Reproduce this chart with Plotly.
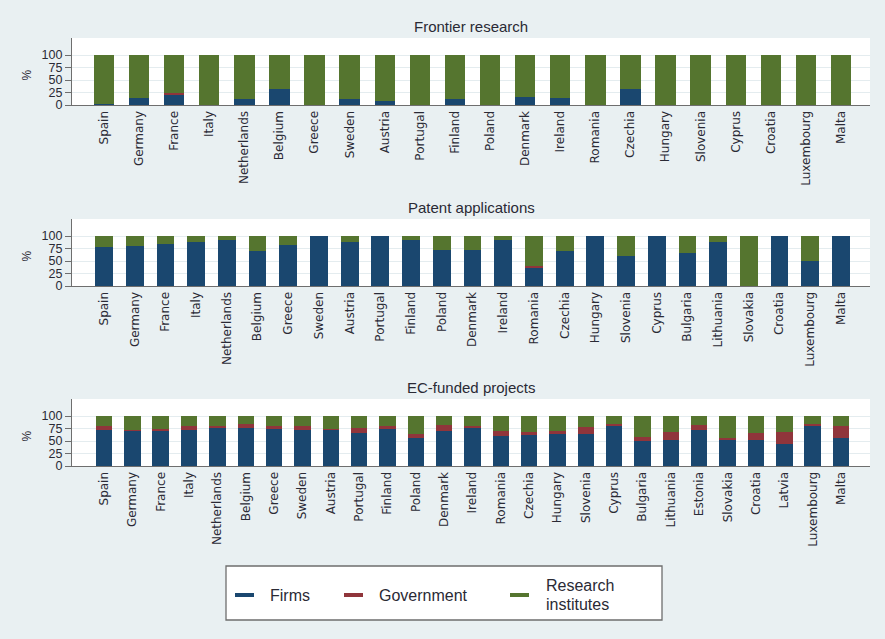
import plotly.graph_objects as go

# Series colours (Stata s2color palette)
FIRMS_COLOR = "#1a476f"
GOV_COLOR = "#90353b"
RES_COLOR = "#55752f"

series_names = ["Firms", "Government", "Research institutes"]

# --- Frontier research (% of participations) ---
frontier_countries = ["Spain", "Germany", "France", "Italy", "Netherlands", "Belgium",
                      "Greece", "Sweden", "Austria", "Portugal", "Finland", "Poland",
                      "Denmark", "Ireland", "Romania", "Czechia", "Hungary", "Slovenia",
                      "Cyprus", "Croatia", "Luxembourg", "Malta"]
frontier_firms = [2, 15, 20, 0, 12, 33, 0, 12, 9, 0, 12, 0,
                  16, 15, 0, 33, 0, 0, 0, 0, 0, 0]
frontier_gov = [0, 0, 5, 0, 0, 0, 0, 0, 0, 0, 0, 0,
                0, 0, 0, 0, 0, 0, 0, 0, 0, 0]
frontier_res = [98, 85, 75, 100, 88, 67, 100, 88, 91, 100, 88, 100,
                84, 85, 100, 67, 100, 100, 100, 100, 100, 100]

# --- Patent applications ---
patent_countries = ["Spain", "Germany", "France", "Italy", "Netherlands", "Belgium",
                    "Greece", "Sweden", "Austria", "Portugal", "Finland", "Poland",
                    "Denmark", "Ireland", "Romania", "Czechia", "Hungary", "Slovenia",
                    "Cyprus", "Bulgaria", "Lithuania", "Slovakia", "Croatia",
                    "Luxembourg", "Malta"]
patent_firms = [78, 80, 85, 89, 93, 70, 82, 100, 89, 100, 93, 73,
                73, 93, 37, 71, 100, 60, 100, 66, 88, 0, 100, 50, 100]
patent_gov = [0, 0, 0, 0, 0, 0, 0, 0, 0, 0, 0, 0,
              0, 0, 3, 0, 0, 0, 0, 0, 0, 0, 0, 0, 0]
patent_res = [22, 20, 15, 11, 7, 30, 18, 0, 11, 0, 7, 27,
              27, 7, 60, 29, 0, 40, 0, 34, 12, 100, 0, 50, 0]

# --- EC-funded projects ---
ec_countries = ["Spain", "Germany", "France", "Italy", "Netherlands", "Belgium",
                "Greece", "Sweden", "Austria", "Portugal", "Finland", "Poland",
                "Denmark", "Ireland", "Romania", "Czechia", "Hungary", "Slovenia",
                "Cyprus", "Bulgaria", "Lithuania", "Estonia", "Slovakia", "Croatia",
                "Latvia", "Luxembourg", "Malta"]
ec_firms = [72, 70, 70, 72, 77, 77, 74, 72, 73, 67, 74, 56,
            70, 77, 60, 62, 64, 64, 80, 50, 53, 73, 52, 53, 45, 80, 56]
ec_gov = [8, 2, 4, 8, 4, 7, 6, 8, 2, 9, 6, 9,
          13, 3, 10, 6, 6, 14, 5, 8, 15, 10, 4, 13, 23, 5, 24]
ec_res = [20, 28, 26, 20, 19, 16, 20, 20, 25, 24, 20, 35,
          17, 20, 30, 32, 30, 22, 15, 42, 32, 17, 44, 34, 32, 15, 20]

panels = [
    ("Frontier research", frontier_countries, frontier_firms, frontier_gov, frontier_res),
    ("Patent applications", patent_countries, patent_firms, patent_gov, patent_res),
    ("EC-funded projects", ec_countries, ec_firms, ec_gov, ec_res),
]

W, H = 885, 639
FONT = "Liberation Sans, Arial, Helvetica, sans-serif"
LABEL_FONT = "DejaVu Sans, sans-serif"
TEXT = "#2a2a35"
AXIS = "#6e6e6e"
BG = "#e9f0f2"


def fx(p):
    return p / W


def fy(p):
    return 1 - p / H


# plot-region pixel boxes: (top, bottom) for each panel
plot_left, plot_right = 72, 870
first_bar, last_bar = 104, 841
panel_boxes = [(38, 105), (219, 286), (399, 466)]
title_y = [26, 207, 387]
y_top = 134

fig = go.Figure()
layout = dict(
    width=W, height=H, autosize=False,
    margin=dict(l=0, r=0, t=0, b=0, pad=0, autoexpand=False),
    paper_bgcolor=BG, plot_bgcolor="white",
    barmode="stack", bargap=0.42,
    showlegend=False,
    font=dict(family=FONT, color=TEXT),
)
annotations = []
shapes = []

for i, (title, countries, firms, gov, res) in enumerate(panels):
    k = "" if i == 0 else str(i + 1)
    xa, ya = "x" + k, "y" + k
    for name, vals, col in zip(series_names, [firms, gov, res],
                               [FIRMS_COLOR, GOV_COLOR, RES_COLOR]):
        fig.add_trace(go.Bar(x=countries, y=vals, name=name, marker_color=col,
                             marker_line_width=0, xaxis=xa, yaxis=ya))
    n = len(countries)
    ppu = (last_bar - first_bar) / (n - 1)
    top, bot = panel_boxes[i]
    layout["xaxis" + k] = dict(
        domain=[fx(plot_left), fx(plot_right)], anchor=ya,
        type="category", automargin=False,
        range=[-(first_bar - plot_left) / ppu, (n - 1) + (plot_right - last_bar) / ppu],
        tickangle=-90, ticks="", showgrid=False,
        showline=True, linecolor=AXIS, linewidth=1.3,
        tickfont=dict(size=12, color=TEXT, family=LABEL_FONT),
        fixedrange=True,
    )
    layout["yaxis" + k] = dict(
        domain=[fy(bot), fy(top)], anchor=xa, automargin=False,
        range=[0, y_top],
        tickvals=[0, 25, 50, 75, 100],
        ticks="outside", ticklen=6, tickcolor=AXIS, tickwidth=1,
        showline=True, linecolor=AXIS, linewidth=1.3,
        showgrid=True, gridcolor="#e4ecef", gridwidth=1,
        zeroline=False,
        tickfont=dict(size=12.5, color=TEXT, family=FONT),
        fixedrange=True,
    )
    annotations.append(dict(
        x=fx((plot_left + plot_right) / 2), y=fy(title_y[i]), xref="paper", yref="paper",
        text=title, showarrow=False, xanchor="center", yanchor="middle",
        font=dict(size=15, color=TEXT, family=FONT)))
    annotations.append(dict(
        x=fx(26), y=fy((top + bot) / 2 + 4), xref="paper", yref="paper",
        text="%", textangle=-90, showarrow=False, xanchor="center", yanchor="middle",
        font=dict(size=12, color=TEXT, family=FONT)))

# Legend box drawn below the panels
shapes.append(dict(type="rect", xref="paper", yref="paper",
                   x0=fx(226), x1=fx(662), y0=fy(620), y1=fy(566),
                   fillcolor="white", line=dict(color=AXIS, width=1.3), layer="above"))
legend_items = [
    ([series_names[0]], FIRMS_COLOR, 235, 268),
    ([series_names[1]], GOV_COLOR, 344, 377),
    (["Research", "institutes"], RES_COLOR, 510, 544),
]
for lines, col, sx, tx in legend_items:
    shapes.append(dict(type="rect", xref="paper", yref="paper",
                       x0=fx(sx), x1=fx(sx + 19), y0=fy(597), y1=fy(593),
                       fillcolor=col, line=dict(width=0), layer="above"))
    if len(lines) == 1:
        ys = [595]
    else:
        ys = [585, 604]
    for line, ty in zip(lines, ys):
        annotations.append(dict(
            x=fx(tx), y=fy(ty), xref="paper", yref="paper", text=line,
            showarrow=False, xanchor="left", yanchor="middle", align="left",
            font=dict(size=16, color=TEXT, family=FONT)))

layout["annotations"] = annotations
layout["shapes"] = shapes
fig.update_layout(**layout)
fig.write_html("out.html")
